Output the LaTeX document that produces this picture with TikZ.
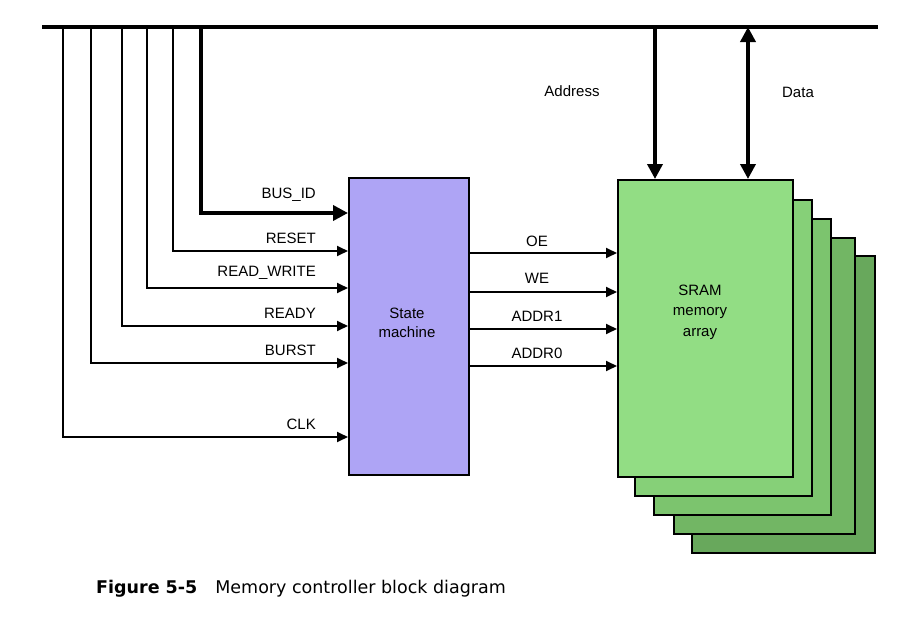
\documentclass[tikz,border=0pt]{standalone}
\usepackage{fontspec}
\setmainfont{Liberation Sans}
\newfontfamily\capfont{DejaVu Sans}
\usetikzlibrary{arrows.meta}
\definecolor{smfill}{RGB}{174,164,245}
\definecolor{gA}{RGB}{146,221,132}
\definecolor{gB}{RGB}{134,208,120}
\definecolor{gC}{RGB}{124,196,110}
\definecolor{gD}{RGB}{114,182,100}
\definecolor{gE}{RGB}{104,168,92}
\begin{document}
\begin{tikzpicture}[x=1pt,y=-1pt,
  lbl/.style={font=\fontsize{15}{16}\selectfont, inner sep=0pt},
  sig/.style={line width=1.8pt, -{Triangle[length=11pt,width=10pt]}},
  bigsig/.style={line width=3.6pt, -{Triangle[length=15pt,width=15pt]}},
  dblsig/.style={line width=3.6pt, {Triangle[length=15pt,width=15pt]}-{Triangle[length=15pt,width=15pt]}},
  blk/.style={draw, line width=1.5pt, inner sep=0pt, anchor=north west},
]
\useasboundingbox (0,0) rectangle (900,621);

% bus
\coordinate (busL) at (42,27);
\coordinate (busR) at (878,27);
\draw[line width=3.6pt] (busL) -- (busR);

% taps on the bus
\coordinate (tclk) at (63,27);
\coordinate (tburst) at (91,27);
\coordinate (tready) at (122,27);
\coordinate (trw) at (147,27);
\coordinate (treset) at (173,27);
\coordinate (tbusid) at (201,27);
\coordinate (taddr) at (655,27);
\coordinate (tdata) at (748,27);

% state machine
\node[blk, fill=smfill, minimum width=120pt, minimum height=297pt] (sm) at (348,177) {};
\node[lbl, align=center] (smtxt) at (407,323) {State\\[3pt]machine};

% SRAM stack
\node[blk, fill=gE, minimum width=183pt, minimum height=297pt] (s5) at (691,255) {};
\node[blk, fill=gD, minimum width=181pt, minimum height=296pt] (s4) at (673,237) {};
\node[blk, fill=gC, minimum width=177pt, minimum height=296pt] (s3) at (653,218) {};
\node[blk, fill=gB, minimum width=177pt, minimum height=296pt] (s2) at (634,199) {};
\node[blk, fill=gA, minimum width=175pt, minimum height=297pt] (s1) at (617,179) {};
\node[lbl, align=center] (sramtxt) at (700,312) {SRAM\\[4.5pt]memory\\[4.5pt]array};

% inputs
\draw[bigsig] (tbusid) |- (sm.west |- 0,213);
\draw[sig] (treset) |- (sm.west |- 0,251);
\draw[sig] (trw) |- (sm.west |- 0,288);
\draw[sig] (tready) |- (sm.west |- 0,326);
\draw[sig] (tburst) |- (sm.west |- 0,363);
\draw[sig] (tclk) |- (sm.west |- 0,437);

\node[lbl, anchor=east] (lbusid) at (316,195) {BUS\_ID};
\node[lbl, anchor=east] (lreset) at (316,238) {RESET};
\node[lbl, anchor=east] (lrw) at (316,273) {READ\_WRITE};
\node[lbl, anchor=east] (lready) at (316,313) {READY};
\node[lbl, anchor=east] (lburst) at (316,350) {BURST};
\node[lbl, anchor=east] (lclk) at (316,424) {CLK};

% outputs
\draw[sig] (sm.east |- 0,253) -- (s1.west |- 0,253);
\draw[sig] (sm.east |- 0,292) -- (s1.west |- 0,292);
\draw[sig] (sm.east |- 0,329) -- (s1.west |- 0,329);
\draw[sig] (sm.east |- 0,366) -- (s1.west |- 0,366);

\node[lbl] (loe) at (537,241) {OE};
\node[lbl] (lwe) at (537,278) {WE};
\node[lbl] (la1) at (537,316) {ADDR1};
\node[lbl] (la0) at (537,353) {ADDR0};

% address / data
\draw[bigsig] (taddr) -- (taddr |- s1.north);
\draw[dblsig] (tdata) -- (tdata |- s1.north);
\node[lbl] (laddr) at (572,91) {Address};
\node[lbl] (ldata) at (798,92) {Data};

% caption
\node[anchor=west, inner sep=0pt, font=\capfont\fontsize{17.5}{20}\selectfont] (cap) at (96,589)
  {\textbf{Figure 5-5}\hspace*{18pt}Memory controller block diagram};
\end{tikzpicture}
\end{document}
